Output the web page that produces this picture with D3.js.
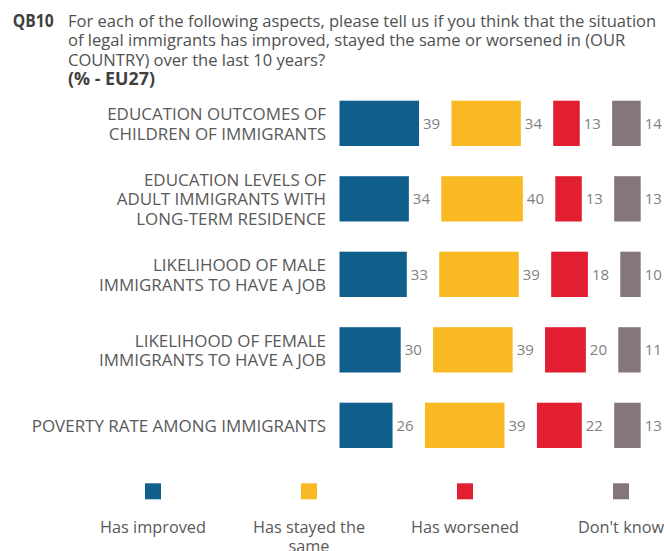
<!DOCTYPE html>
<html>
<head>
<meta charset="utf-8">
<script src="https://cdn.jsdelivr.net/npm/d3@7"></script>
<style>
html,body{margin:0;padding:0;background:#fff;}
svg{display:block;}
</style>
</head>
<body>
<script>
// ---------- data ----------
const titleCode = "QB10";
const titleLines = [
  "For each of the following aspects, please tell us if you think that the situation",
  "of legal immigrants has improved, stayed the same or worsened in (OUR",
  "COUNTRY) over the last 10 years?"
];
const subtitle = "(% - EU27)";
const categories = [
  "EDUCATION OUTCOMES OF|CHILDREN OF IMMIGRANTS",
  "EDUCATION LEVELS OF|ADULT IMMIGRANTS WITH|LONG-TERM RESIDENCE",
  "LIKELIHOOD OF MALE|IMMIGRANTS TO HAVE A JOB",
  "LIKELIHOOD OF FEMALE|IMMIGRANTS TO HAVE A JOB",
  "POVERTY RATE AMONG IMMIGRANTS"
];
const seriesNames = ["Has improved", "Has stayed the same", "Has worsened", "Don't know"];
const hasImproved = [39, 34, 33, 30, 26];
const stayedSame  = [34, 40, 39, 39, 39];
const hasWorsened = [13, 13, 18, 20, 22];
const dontKnow    = [14, 13, 10, 11, 13];
const seriesColors = ["#0f5e8c", "#f8b922", "#e21f31", "#857679"];

// ---------- layout ----------
const W = 664, H = 551;
const FONT = "'Open Sans', 'Noto Sans', sans-serif";
const svg = d3.select("body").append("svg").attr("width", W).attr("height", H)
  .style("font-family", FONT);

const seriesValues = [hasImproved, stayedSame, hasWorsened, dontKnow];

const y = d3.scaleBand().domain(d3.range(categories.length))
  .range([100.7, 448]).paddingInner(0.4).paddingOuter(0);
const w = d3.scaleLinear().domain([0, 100]).range([0, 204]);
const x0 = 339.5, gap = 32.4;

function measure(text, size, weight) {
  const t = svg.append("text").attr("font-size", size).attr("font-weight", weight || "normal").text(text);
  const l = t.node().getComputedTextLength();
  t.remove();
  return l;
}

// ---------- title ----------
const qb = svg.append("g").attr("transform", `translate(12.7,27) scale(${41 / measure(titleCode, 17, "bold")},1)`);
qb.append("text").attr("font-size", 17).attr("font-weight", "bold").attr("fill", "#404040").text(titleCode);

const tf = 589 / measure(titleLines[0], 17);
titleLines.forEach((l, i) => {
  svg.append("g").attr("transform", `translate(68,${27 + i * 19.4}) scale(${tf},1)`)
    .append("text").attr("font-size", 17).attr("fill", "#505050").text(l);
});
const sf = 87 / measure(subtitle, 17, "bold");
svg.append("g").attr("transform", `translate(68,${27 + 3 * 19.4}) scale(${sf},1)`)
  .append("text").attr("font-size", 17).attr("font-weight", "bold").attr("fill", "#404040").text(subtitle);

// ---------- category labels ----------
const cf = 294.3 / measure("POVERTY RATE AMONG IMMIGRANTS", 17);
categories.forEach((c, i) => {
  const lines = c.split("|");
  const cy = y(i) + y.bandwidth() / 2;
  const lh = 19.3;
  const first = cy + 6.5 - (lines.length - 1) * lh / 2;
  lines.forEach((l, j) => {
    svg.append("g").attr("transform", `translate(326,${first + j * lh}) scale(${cf},1)`)
      .append("text").attr("font-size", 17).attr("text-anchor", "end").attr("fill", "#595959").text(l);
  });
});

// ---------- bars ----------
categories.forEach((c, i) => {
  let xs = x0;
  seriesValues.forEach((vals, s) => {
    const v = vals[i];
    svg.append("rect").attr("x", xs).attr("y", y(i))
      .attr("width", w(v)).attr("height", y.bandwidth())
      .attr("fill", seriesColors[s]);
    svg.append("text").attr("x", xs + w(v) + 4).attr("y", y(i) + y.bandwidth() / 2 + 5.6)
      .attr("font-size", 15).attr("fill", "#7f7f7f").text(v);
    xs += w(v) + gap;
  });
});

// ---------- legend ----------
const legX = d3.scalePoint().domain(seriesNames).range([153, 621]);
const lf = 106 / measure("Has improved", 17);
seriesNames.forEach((n, s) => {
  const cx = legX(n);
  svg.append("rect").attr("x", cx - 8).attr("y", 483.3).attr("width", 16).attr("height", 16)
    .attr("fill", seriesColors[s]);
  // wrap
  const words = n.split(" ");
  const lines = [];
  let cur = "";
  words.forEach(wd => {
    const test = cur ? cur + " " + wd : wd;
    if (cur && measure(test, 17) * lf > 125) { lines.push(cur); cur = wd; } else cur = test;
  });
  lines.push(cur);
  lines.forEach((l, j) => {
    svg.append("g").attr("transform", `translate(${cx},${533 + j * 19}) scale(${lf},1)`)
      .append("text").attr("font-size", 17).attr("text-anchor", "middle").attr("fill", "#595959").text(l);
  });
});
</script>
</body>
</html>
